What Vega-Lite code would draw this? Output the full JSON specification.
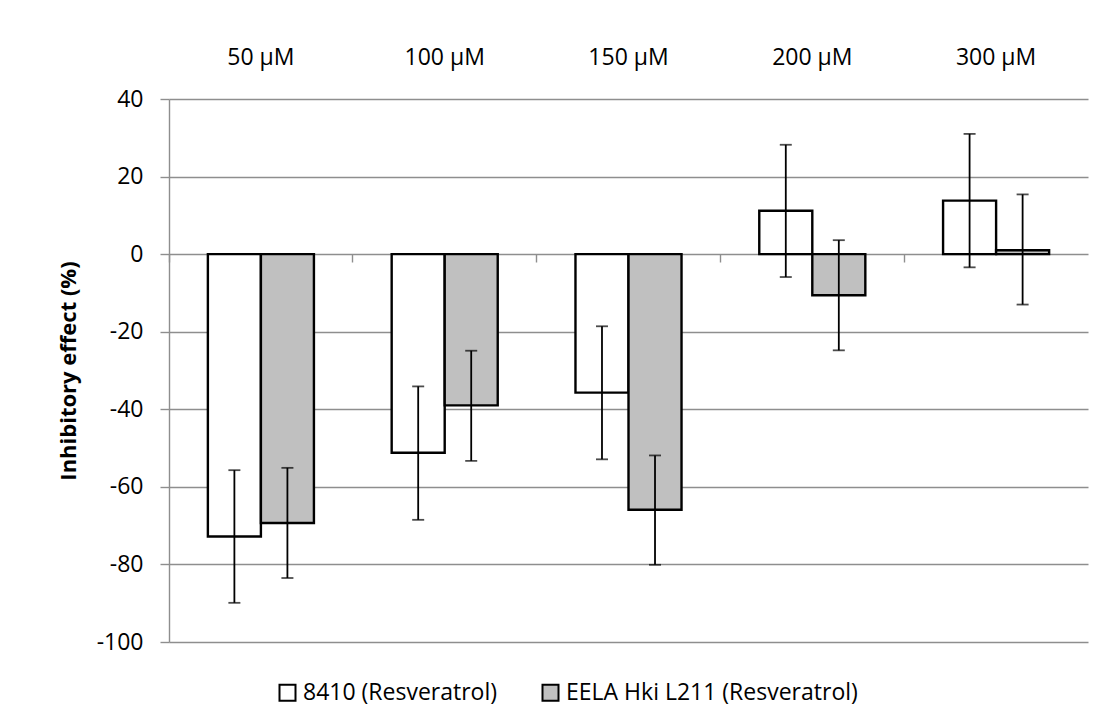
{
  "$schema": "https://vega.github.io/schema/vega-lite/v6.json",
  "width": 919,
  "height": 543,
  "autosize": {"type": "none"},
  "padding": {"left": 169, "top": 99, "right": 17, "bottom": 84},
  "background": "white",
  "config": {
    "font": "Open Sans",
    "view": {"stroke": null},
    "locale": {"number": {"decimal": ".", "thousands": ",", "grouping": [3], "currency": ["$", ""], "minus": "-"}}
  },
  "data": {
    "values": [
      {"conc": "50 µM", "series": "8410 (Resveratrol)", "value": -72.8, "lo": -89.9, "hi": -55.7},
      {"conc": "50 µM", "series": "EELA Hki L211 (Resveratrol)", "value": -69.3, "lo": -83.5, "hi": -55.1},
      {"conc": "100 µM", "series": "8410 (Resveratrol)", "value": -51.2, "lo": -68.5, "hi": -34.1},
      {"conc": "100 µM", "series": "EELA Hki L211 (Resveratrol)", "value": -39.0, "lo": -53.3, "hi": -24.9},
      {"conc": "150 µM", "series": "8410 (Resveratrol)", "value": -35.7, "lo": -52.9, "hi": -18.6},
      {"conc": "150 µM", "series": "EELA Hki L211 (Resveratrol)", "value": -65.9, "lo": -80.1, "hi": -51.9},
      {"conc": "200 µM", "series": "8410 (Resveratrol)", "value": 11.2, "lo": -5.9, "hi": 28.2},
      {"conc": "200 µM", "series": "EELA Hki L211 (Resveratrol)", "value": -10.6, "lo": -24.8, "hi": 3.6},
      {"conc": "300 µM", "series": "8410 (Resveratrol)", "value": 13.8, "lo": -3.4, "hi": 31.0},
      {"conc": "300 µM", "series": "EELA Hki L211 (Resveratrol)", "value": 1.0, "lo": -13.0, "hi": 15.4}
    ]
  },
  "resolve": {"axis": {"x": "independent"}},
  "layer": [
    {
      "mark": {"type": "bar", "stroke": "black", "strokeWidth": 2.4},
      "encoding": {
        "x": {
          "field": "conc", "type": "nominal",
          "sort": ["50 µM", "100 µM", "150 µM", "200 µM", "300 µM"],
          "scale": {"paddingInner": 0.423, "paddingOuter": 0.2115},
          "axis": {
            "orient": "top", "title": null, "domain": false, "ticks": false,
            "labelAngle": 0, "labelPadding": 30, "labelFontSize": 23,
            "labelColor": "black", "labelFont": "Open Sans"
          }
        },
        "xOffset": {
          "field": "series", "type": "nominal",
          "sort": ["8410 (Resveratrol)", "EELA Hki L211 (Resveratrol)"],
          "scale": {"paddingInner": 0, "paddingOuter": 0}
        },
        "y": {
          "field": "value", "type": "quantitative",
          "scale": {"domain": [-100, 40], "nice": false, "zero": false},
          "axis": {
            "values": [-100, -80, -60, -40, -20, 0, 20, 40],
            "title": "Inhibitory effect (%)",
            "titleFont": "Open Sans", "titleFontSize": 22, "titleFontWeight": "bold",
            "titleColor": "black", "titlePadding": 16,
            "labelFont": "Open Sans", "labelFontSize": 23, "labelColor": "black",
            "labelPadding": 17,
            "grid": true, "gridColor": "#8e8e8e", "gridWidth": 1.4,
            "domain": true, "domainColor": "#8e8e8e", "domainWidth": 1.4,
            "ticks": true, "tickSize": 9, "tickColor": "#8e8e8e", "tickWidth": 1.4
          }
        },
        "fill": {
          "field": "series", "type": "nominal",
          "scale": {
            "domain": ["8410 (Resveratrol)", "EELA Hki L211 (Resveratrol)"],
            "range": ["#ffffff", "#c0c0c0"]
          },
          "legend": {
            "orient": "none", "legendX": 107, "legendY": 582,
            "direction": "horizontal", "title": null,
            "symbolType": "square", "symbolSize": 256,
            "symbolStrokeColor": "black", "symbolStrokeWidth": 2,
            "labelFont": "Open Sans", "labelFontSize": 23, "labelColor": "black",
            "labelLimit": 0, "labelOffset": 4, "columnPadding": 40, "padding": 0
          }
        }
      }
    },
    {
      "mark": {"type": "rule", "color": "black", "strokeWidth": 1.8},
      "encoding": {
        "x": {
          "field": "conc", "type": "nominal",
          "sort": ["50 µM", "100 µM", "150 µM", "200 µM", "300 µM"],
          "axis": {
            "orient": "bottom", "offset": -388, "title": null, "labels": false,
            "domain": false, "ticks": true, "tickSize": 8, "tickColor": "#8e8e8e",
            "tickWidth": 1.4, "bandPosition": -0.3665, "grid": false
          }
        },
        "xOffset": {
          "field": "series", "type": "nominal",
          "sort": ["8410 (Resveratrol)", "EELA Hki L211 (Resveratrol)"]
        },
        "y": {"field": "lo", "type": "quantitative"},
        "y2": {"field": "hi"}
      }
    },
    {
      "mark": {"type": "tick", "color": "black", "thickness": 1.8, "size": 12},
      "encoding": {
        "x": {
          "field": "conc", "type": "nominal",
          "sort": ["50 µM", "100 µM", "150 µM", "200 µM", "300 µM"],
          "axis": null
        },
        "xOffset": {
          "field": "series", "type": "nominal",
          "sort": ["8410 (Resveratrol)", "EELA Hki L211 (Resveratrol)"]
        },
        "y": {"field": "lo", "type": "quantitative"}
      }
    },
    {
      "mark": {"type": "tick", "color": "black", "thickness": 1.8, "size": 12},
      "encoding": {
        "x": {
          "field": "conc", "type": "nominal",
          "sort": ["50 µM", "100 µM", "150 µM", "200 µM", "300 µM"],
          "axis": null
        },
        "xOffset": {
          "field": "series", "type": "nominal",
          "sort": ["8410 (Resveratrol)", "EELA Hki L211 (Resveratrol)"]
        },
        "y": {"field": "hi", "type": "quantitative"}
      }
    }
  ]
}
